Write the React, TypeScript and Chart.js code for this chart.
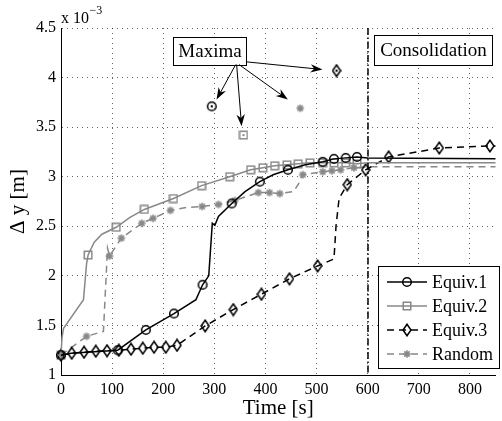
import React, { useEffect, useRef } from "react";
import { Chart, registerables } from "chart.js";
Chart.register(...registerables);

// ---------- data (values in units of 1e-3 m) ----------
const seriesLabels = ["Equiv.1", "Equiv.2", "Equiv.3", "Random"];

const equiv1Time = [0, 20, 111, 166, 221, 264, 277, 289, 296, 301, 308, 334, 360, 389, 415, 444, 478, 512, 534, 557, 579, 600, 850];
const equiv1Value = [1.2, 1.22, 1.25, 1.455, 1.62, 1.76, 1.91, 2.0, 2.53, 2.51, 2.6, 2.73, 2.85, 2.95, 3.02, 3.07, 3.12, 3.15, 3.18, 3.19, 3.2, 3.19, 3.18];
const equiv1MarkerTimes = [0, 111, 166, 221, 277, 334, 389, 444, 512, 534, 557, 579];

const equiv2Time = [0, 2, 5, 44, 50, 53, 65, 80, 108, 135, 163, 220, 275, 330, 371, 395, 418, 442, 464, 487, 512, 534, 557, 579, 600, 850];
const equiv2Value = [1.2, 1.38, 1.47, 1.76, 2.12, 2.21, 2.34, 2.42, 2.49, 2.59, 2.67, 2.78, 2.91, 3.0, 3.07, 3.09, 3.11, 3.12, 3.13, 3.14, 3.14, 3.14, 3.14, 3.13, 3.14, 3.14];
const equiv2MarkerTimes = [0, 53, 108, 163, 220, 275, 330, 371, 395, 418, 442, 464, 487, 512, 534, 557, 579];

const equiv3Time = [0, 21, 45, 68, 90, 113, 137, 160, 182, 205, 227, 282, 337, 392, 447, 502, 534, 538, 544, 560, 596, 641, 740, 839, 850];
const equiv3Value = [1.2, 1.22, 1.23, 1.24, 1.245, 1.25, 1.26, 1.27, 1.28, 1.28, 1.3, 1.495, 1.66, 1.815, 1.97, 2.1, 2.17, 2.5, 2.78, 2.92, 3.07, 3.2, 3.29, 3.31, 3.31];
const equiv3MarkerTimes = [0, 21, 45, 68, 90, 113, 137, 160, 182, 205, 227, 282, 337, 392, 447, 502, 560, 596, 641, 740, 839];

const randomTime = [0, 50, 76, 83, 91, 95, 118, 158, 180, 214, 245, 276, 308, 340, 386, 408, 428, 455, 465, 473, 512, 530, 547, 573, 600, 850];
const randomValue = [1.2, 1.39, 1.43, 1.44, 2.28, 2.2, 2.38, 2.53, 2.58, 2.66, 2.69, 2.7, 2.72, 2.76, 2.84, 2.84, 2.83, 2.85, 2.93, 3.02, 3.05, 3.06, 3.07, 3.09, 3.1, 3.1];
const randomMarkerTimes = [0, 50, 95, 118, 158, 180, 214, 276, 308, 340, 386, 408, 428, 473, 512, 530, 547, 573];

const maximaTime = [295, 357, 468, 539];
const maximaValue = [3.71, 3.42, 3.69, 4.07];

const xMin = 0, xMax = 850, xStep = 100;
const yMin = 1, yMax = 4.5, yStep = 0.5;
const consolidationTime = 600;

const xTitle = "Time [s]";
const yTitle = "Δ y [m]";
const maximaText = "Maxima";
const consolidationText = "Consolidation";

// annotation placement (data coordinates)
const maximaBox = { t0: 219, t1: 362, v0: 4.13, v1: 4.41 };
const consolidationBox = { t0: 613, t1: 844, v0: 4.13, v1: 4.43 };
const arrows = [
  [341.7, 4.131, 304.3, 3.778],
  [343.6, 4.131, 353.3, 3.508],
  [348.3, 4.131, 443.8, 3.778],
  [361.8, 4.159, 511.6, 4.081],
];

const BLACK = "#000000";
const GRAY = "#888888";
const FONT = '"Liberation Serif", "Times New Roman", serif';
Chart.defaults.font.family = FONT;

function mk(w: number, h: number, draw: (c: CanvasRenderingContext2D) => void) {
  const cv = document.createElement("canvas");
  cv.width = w;
  cv.height = h;
  const c = cv.getContext("2d")!;
  draw(c);
  return cv;
}

function circleMarker(dot: boolean) {
  return mk(12, 12, (c) => {
    c.strokeStyle = BLACK;
    c.lineWidth = 1.5;
    c.beginPath();
    c.arc(6, 6, 4.3, 0, Math.PI * 2);
    c.stroke();
    if (dot) { c.fillStyle = BLACK; c.beginPath(); c.arc(6, 6, 1.2, 0, Math.PI * 2); c.fill(); }
  });
}
function squareMarker(dot: boolean) {
  return mk(10, 10, (c) => {
    c.strokeStyle = GRAY;
    c.lineWidth = 1.5;
    c.strokeRect(1.25, 1.25, 7.5, 7.5);
    if (dot) { c.fillStyle = GRAY; c.fillRect(4, 4, 2, 2); }
  });
}
function diamondMarker(dot: boolean) {
  return mk(10, 14, (c) => {
    c.strokeStyle = BLACK;
    c.lineWidth = 1.5;
    c.beginPath();
    c.moveTo(5, 1.2); c.lineTo(9, 7); c.lineTo(5, 12.8); c.lineTo(1, 7); c.closePath();
    c.stroke();
    if (dot) { c.fillStyle = BLACK; c.beginPath(); c.arc(5, 7, 1.2, 0, Math.PI * 2); c.fill(); }
  });
}
function starMarker() {
  return mk(10, 10, (c) => {
    c.strokeStyle = GRAY;
    c.lineWidth = 1.6;
    c.beginPath();
    for (let k = 0; k < 4; k++) {
      const a = (k * Math.PI) / 4;
      c.moveTo(5 + Math.cos(a) * 3.8, 5 + Math.sin(a) * 3.8);
      c.lineTo(5 - Math.cos(a) * 3.8, 5 - Math.sin(a) * 3.8);
    }
    c.stroke();
  });
}

function pts(t: number[], v: number[]) {
  return t.map((x, i) => ({ x, y: v[i] }));
}

function drawArrow(c: CanvasRenderingContext2D, x0: number, y0: number, x1: number, y1: number) {
  const ang = Math.atan2(y1 - y0, x1 - x0);
  const L = 12, W = 4.2;
  const bx = x1 - Math.cos(ang) * L, by = y1 - Math.sin(ang) * L;
  const nx = x1 - Math.cos(ang) * L * 0.7, ny = y1 - Math.sin(ang) * L * 0.7;
  c.beginPath();
  c.moveTo(x0, y0);
  c.lineTo(nx, ny);
  c.stroke();
  c.beginPath();
  c.moveTo(x1, y1);
  c.lineTo(bx - Math.sin(ang) * W, by + Math.cos(ang) * W);
  c.lineTo(nx, ny);
  c.lineTo(bx + Math.sin(ang) * W, by - Math.cos(ang) * W);
  c.closePath();
  c.fill();
}

export default function App() {
  const ref = useRef<HTMLCanvasElement>(null);
  useEffect(() => {
    const canvas = ref.current!;
    const mCircle = circleMarker(false);
    const mSquare = squareMarker(false);
    const mDiamond = diamondMarker(false);
    const mStar = starMarker();
    const maxMarkers = [circleMarker(true), squareMarker(true), starMarker(), diamondMarker(true)];

    const radiusFor = (times: number[], marks: number[]) => (ctx: any) =>
      marks.includes(times[ctx.dataIndex]) ? 5 : 0;

    const annotations = {
      id: "annotations",
      afterDatasetsDraw(chart: any) {
        const c = chart.ctx as CanvasRenderingContext2D;
        const xs = chart.scales.x, ys = chart.scales.y;
        const area = chart.chartArea;
        c.save();
        // consolidation line
        const cx = Math.round(xs.getPixelForValue(consolidationTime));
        c.strokeStyle = BLACK;
        c.lineWidth = 1.5;
        c.setLineDash([7, 2.5, 1.5, 2.5]);
        c.beginPath();
        c.moveTo(cx, area.top);
        c.lineTo(cx, area.bottom);
        c.stroke();
        c.setLineDash([]);
        // boxes
        const box = (b: any, text: string) => {
          const l = Math.round(xs.getPixelForValue(b.t0)) + 0.5;
          const r = Math.round(xs.getPixelForValue(b.t1)) + 0.5;
          const t = Math.round(ys.getPixelForValue(b.v1)) + 0.5;
          const bt = Math.round(ys.getPixelForValue(b.v0)) + 0.5;
          c.fillStyle = "#ffffff";
          c.fillRect(l, t, r - l, bt - t);
          c.strokeStyle = BLACK;
          c.lineWidth = 1;
          c.strokeRect(l, t, r - l, bt - t);
          c.fillStyle = BLACK;
          c.font = `19px ${FONT}`;
          c.textAlign = "center";
          c.textBaseline = "middle";
          c.fillText(text, (l + r) / 2, (t + bt) / 2 + 1);
        };
        box(maximaBox, maximaText);
        box(consolidationBox, consolidationText);
        // arrows
        c.strokeStyle = BLACK;
        c.fillStyle = BLACK;
        c.lineWidth = 1;
        for (const a of arrows) {
          drawArrow(c, xs.getPixelForValue(a[0]), ys.getPixelForValue(a[1]), xs.getPixelForValue(a[2]), ys.getPixelForValue(a[3]));
        }
        // exponent label
        c.fillStyle = BLACK;
        c.textAlign = "left";
        c.textBaseline = "alphabetic";
        c.font = `16px ${FONT}`;
        const base = "x 10";
        c.fillText(base, area.left, area.top - 5);
        const w = c.measureText(base).width;
        c.font = `12px ${FONT}`;
        c.fillText("−3", area.left + w + 0.5, area.top - 14);
        c.restore();
      },
      afterDraw(chart: any) {
        const c = chart.ctx as CanvasRenderingContext2D;
        c.save();
        const l = 378.5, r = 499.5, t = 266.5, b = 368.5;
        c.fillStyle = "#ffffff";
        c.fillRect(l, t, r - l, b - t);
        c.strokeStyle = BLACK;
        c.lineWidth = 1;
        c.strokeRect(l, t, r - l, b - t);
        const marks = [mCircle, mSquare, mDiamond, mStar];
        const rowY = [282, 306, 330, 354];
        for (let i = 0; i < 4; i++) {
          const ds = chart.data.datasets[i];
          const y = rowY[i];
          c.strokeStyle = ds.borderColor;
          c.lineWidth = ds.borderWidth;
          c.setLineDash(ds.borderDash || []);
          c.beginPath();
          c.moveTo(387, y);
          c.lineTo(427, y);
          c.stroke();
          c.setLineDash([]);
          const m = marks[i];
          c.drawImage(m, 407 - m.width / 2, y - m.height / 2);
          c.fillStyle = BLACK;
          c.font = `18px ${FONT}`;
          c.textAlign = "left";
          c.textBaseline = "middle";
          c.fillText(ds.label, 432, y + 1);
        }
        c.restore();
      },
    };

    const grid = { color: "rgba(0,0,0,0.6)", lineWidth: 1, drawTicks: false };
    const border = { display: true, color: BLACK, width: 1, dash: [1, 4] };

    const chart = new Chart(canvas, {
      type: "line",
      data: {
        datasets: [
          {
            label: seriesLabels[0], data: pts(equiv1Time, equiv1Value), borderColor: BLACK, borderWidth: 1.5,
            pointStyle: mCircle as any, pointRadius: radiusFor(equiv1Time, equiv1MarkerTimes) as any, clip: false as any,
          },
          {
            label: seriesLabels[1], data: pts(equiv2Time, equiv2Value), borderColor: GRAY, borderWidth: 1.5,
            pointStyle: mSquare as any, pointRadius: radiusFor(equiv2Time, equiv2MarkerTimes) as any, clip: false as any,
          },
          {
            label: seriesLabels[2], data: pts(equiv3Time, equiv3Value), borderColor: BLACK, borderWidth: 1.5, borderDash: [7, 5],
            pointStyle: mDiamond as any, pointRadius: radiusFor(equiv3Time, equiv3MarkerTimes) as any, clip: false as any,
          },
          {
            label: seriesLabels[3], data: pts(randomTime, randomValue), borderColor: GRAY, borderWidth: 1.5, borderDash: [7, 5],
            pointStyle: mStar as any, pointRadius: radiusFor(randomTime, randomMarkerTimes) as any, clip: false as any,
          },
          {
            label: "Maxima", data: pts(maximaTime, maximaValue), showLine: false,
            pointStyle: maxMarkers as any, pointRadius: 5, clip: false as any,
          },
        ],
      },
      options: {
        animation: false,
        responsive: false,
        devicePixelRatio: 1,
        layout: { padding: { top: 28, right: 2, left: 0, bottom: 0 } },
        elements: { line: { tension: 0 } },
        plugins: { legend: { display: false }, tooltip: { enabled: false } },
        scales: {
          x: {
            type: "linear", min: xMin, max: xMax,
            ticks: { stepSize: xStep, includeBounds: false, color: BLACK, padding: 5, font: { size: 16, family: FONT }, maxRotation: 0 },
            grid,
            border,
            title: { display: true, text: xTitle, color: BLACK, font: { size: 21, family: FONT }, padding: { top: 0, bottom: 0 } },
            afterFit: (s: any) => { s.height = 46; },
          },
          y: {
            type: "linear", min: yMin, max: yMax,
            ticks: { stepSize: yStep, includeBounds: false, color: BLACK, padding: 5, font: { size: 16, family: FONT }, callback: (v: any) => String(v) },
            grid,
            border,
            title: { display: true, text: yTitle, color: BLACK, font: { size: 21, family: FONT }, padding: { top: 6, bottom: 0 } },
            afterFit: (s: any) => { s.width = 61; },
          },
        },
      } as any,
      plugins: [annotations],
    });
    return () => chart.destroy();
  }, []);
  return (
    <div style={{ position: "absolute", left: 0, top: 0, width: 502, height: 421, background: "#fff" }}>
      <canvas ref={ref} width={502} height={421} style={{ display: "block", width: 502, height: 421 }} />
    </div>
  );
}
